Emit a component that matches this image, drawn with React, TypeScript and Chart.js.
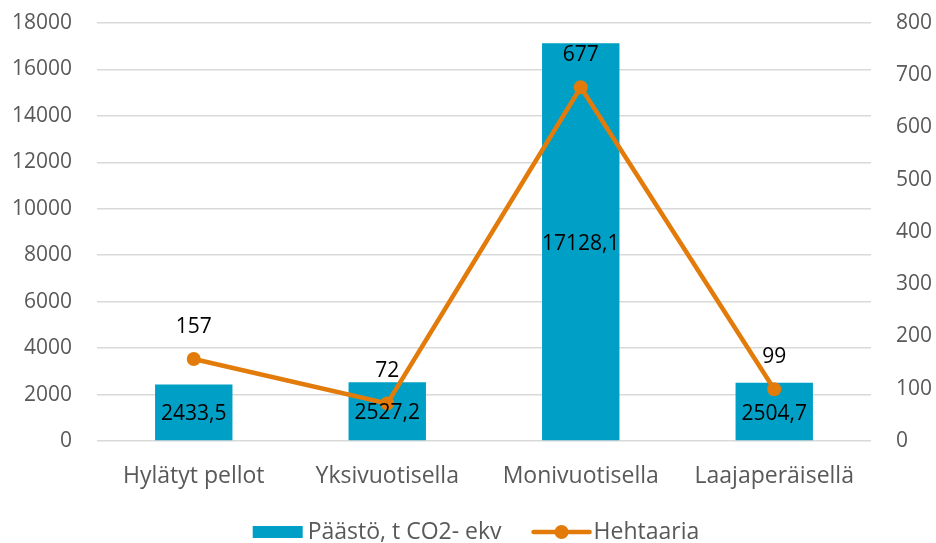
import React, { useEffect, useRef } from "react";
import { Chart, registerables } from "chart.js";
Chart.register(...registerables);

const categories = ["Hylätyt pellot", "Yksivuotisella", "Monivuotisella", "Laajaperäisellä"];
const emissions = [2433.5, 2527.2, 17128.1, 2504.7];
const hectares = [157, 72, 677, 99];
const seriesNames = ["Päästö, t CO2- ekv", "Hehtaaria"];
const leftAxis = { min: 0, max: 18000, step: 2000 };
const rightAxis = { min: 0, max: 800, step: 100 };

const BAR_COLOR = "#00A0C6";
const LINE_COLOR = "#E27B09";
const FONT = "'Open Sans', 'Noto Sans', sans-serif";
const TEXT_GRAY = "#595959";

const labelPlugin = {
  id: "labels",
  afterDatasetsDraw(chart: any) {
    const ctx = chart.ctx;
    ctx.save();
    ctx.font = `21px ${FONT}`;
    ctx.fillStyle = "#000";
    ctx.textAlign = "center";
    ctx.textBaseline = "middle";
    const barMeta = chart.getDatasetMeta(1);
    barMeta.data.forEach((el: any, i: number) => {
      const y = (el.y + el.base) / 2;
      ctx.fillText(emissions[i].toFixed(1).replace(".", ","), el.x, y + 2);
    });
    const lineMeta = chart.getDatasetMeta(0);
    lineMeta.data.forEach((el: any, i: number) => {
      ctx.fillText(String(hectares[i]), el.x, el.y - 32);
    });
    ctx.restore();
  },
  afterDraw(chart: any) {
    const ctx = chart.ctx;
    ctx.save();
    ctx.font = `23px ${FONT}`;
    ctx.textBaseline = "middle";
    ctx.textAlign = "left";
    const w1 = ctx.measureText(seriesNames[0]).width;
    const w2 = ctx.measureText(seriesNames[1]).width;
    const total = 50 + 5 + w1 + 32 + 56 + 4 + w2;
    let x = chart.width / 2 + 8 - total / 2;
    const y = 532;
    ctx.fillStyle = BAR_COLOR;
    ctx.fillRect(x, y - 6, 50, 12);
    x += 55;
    ctx.fillStyle = TEXT_GRAY;
    ctx.fillText(seriesNames[0], x, y);
    x += w1 + 32;
    ctx.strokeStyle = LINE_COLOR;
    ctx.lineWidth = 4.5;
    ctx.lineCap = "round";
    ctx.beginPath();
    ctx.moveTo(x, y);
    ctx.lineTo(x + 56, y);
    ctx.stroke();
    ctx.fillStyle = LINE_COLOR;
    ctx.beginPath();
    ctx.arc(x + 28, y, 7, 0, Math.PI * 2);
    ctx.fill();
    x += 60;
    ctx.fillStyle = TEXT_GRAY;
    ctx.fillText(seriesNames[1], x, y);
    ctx.restore();
  },
};

export default function App() {
  const ref = useRef<HTMLCanvasElement>(null);
  useEffect(() => {
    document.body.style.margin = "0";
    const chart = new Chart(ref.current!, {
      type: "bar",
      data: {
        labels: categories,
        datasets: [
          {
            type: "line",
            label: seriesNames[1],
            data: hectares,
            yAxisID: "y1",
            borderColor: LINE_COLOR,
            backgroundColor: LINE_COLOR,
            borderWidth: 4.5,
            pointRadius: 7,
            pointHoverRadius: 7,
            pointBorderWidth: 0,
            order: 0,
          } as any,
          {
            type: "bar",
            label: seriesNames[0],
            data: emissions,
            yAxisID: "y",
            backgroundColor: BAR_COLOR,
            barPercentage: 1,
            categoryPercentage: 0.4,
            order: 1,
          },
        ],
      },
      options: {
        animation: false,
        responsive: false,
        maintainAspectRatio: false,
        layout: { padding: { top: 23, left: 0, right: 0, bottom: 42 } },
        plugins: { legend: { display: false }, tooltip: { enabled: false } },
        scales: {
          x: {
            grid: { display: false, drawTicks: false },
            border: { display: false },
            ticks: { color: TEXT_GRAY, font: { family: FONT, size: 23 }, padding: 22 },
            afterFit(s: any) { s.height = 60; s.paddingLeft = 0; s.paddingRight = 0; },
          },
          y: {
            position: "left",
            min: leftAxis.min,
            max: leftAxis.max,
            ticks: {
              stepSize: leftAxis.step,
              color: TEXT_GRAY,
              font: { family: FONT, size: 21 },
              padding: 25,
              callback: (v: any) => String(v),
            },
            grid: { color: "#D9D9D9", lineWidth: 1.5, drawTicks: false },
            border: { display: false },
            afterFit(s: any) { s.width = 97; s.paddingTop = 0; s.paddingBottom = 0; },
          },
          y1: {
            position: "right",
            min: rightAxis.min,
            max: rightAxis.max,
            ticks: {
              stepSize: rightAxis.step,
              color: TEXT_GRAY,
              font: { family: FONT, size: 21 },
              padding: 25,
              callback: (v: any) => String(v),
            },
            grid: { display: false, drawTicks: false },
            border: { display: false },
            afterFit(s: any) { s.width = 65; s.paddingTop = 0; s.paddingBottom = 0; },
          },
        },
      },
      plugins: [labelPlugin],
    });
    return () => chart.destroy();
  }, []);
  return <canvas ref={ref} width={936} height={543} style={{ display: "block" }} />;
}
